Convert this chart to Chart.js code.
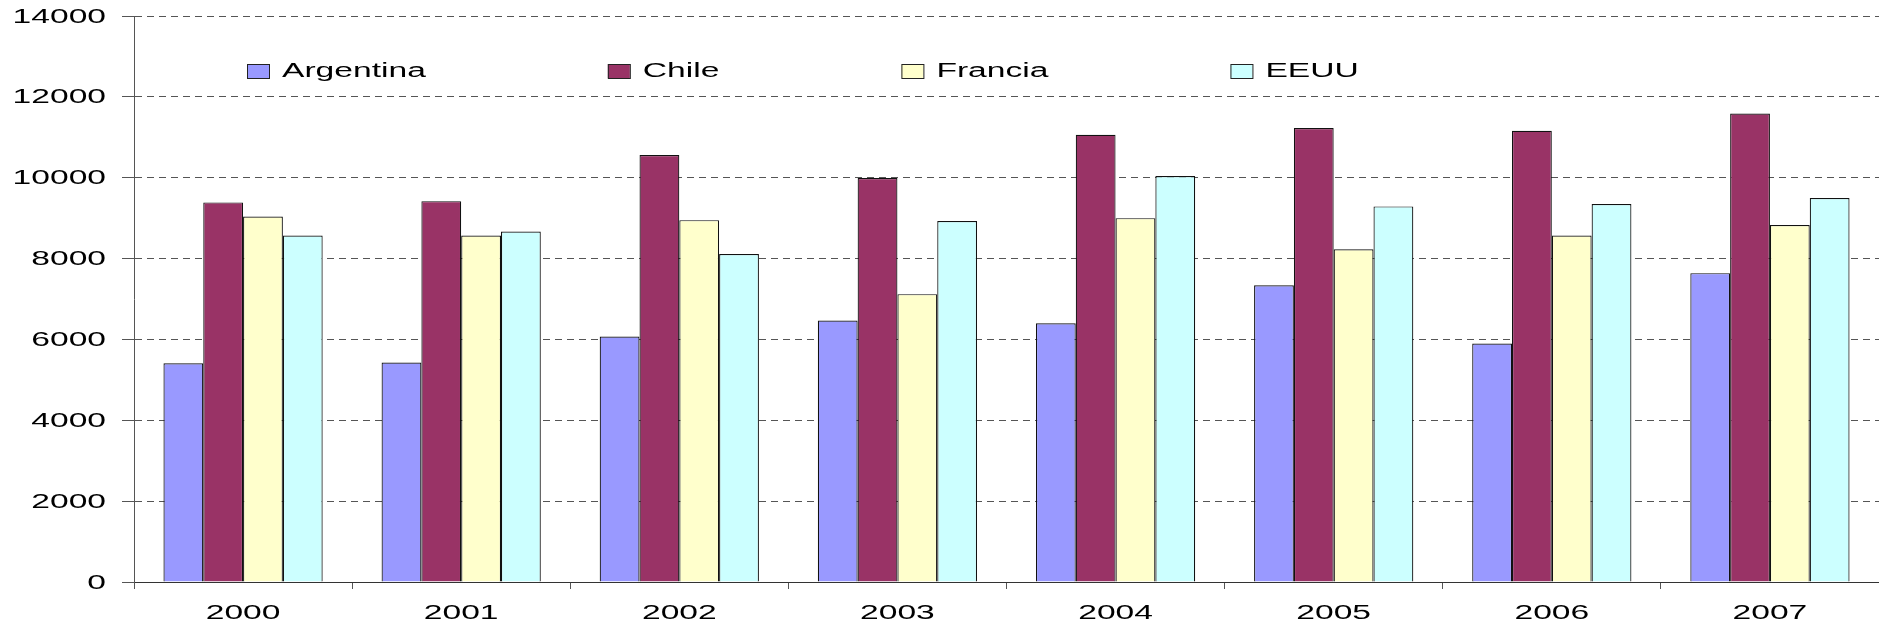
<!DOCTYPE html>
<html>
<head>
<meta charset="utf-8">
<script src="https://cdn.jsdelivr.net/npm/chart.js@4/dist/chart.umd.min.js"></script>
<style>
  html, body { margin: 0; padding: 0; background: #fff; }
  #wrap { width: 1879px; height: 627px; position: relative; }
</style>
</head>
<body>
<div id="wrap"><canvas id="paisesChart"></canvas></div>
<script>
// datos
const years = ['2000', '2001', '2002', '2003', '2004', '2005', '2006', '2007'];
const argentina = [5410, 5430, 6070, 6470, 6400, 7340, 5900, 7640];
const chile = [9390, 9420, 10560, 9990, 11060, 11230, 11160, 11590];
const francia = [9040, 8570, 8950, 7120, 9000, 8230, 8570, 8830];
const eeuu = [8570, 8670, 8110, 8930, 10040, 9290, 9350, 9500];
const yTicks = [0, 2000, 4000, 6000, 8000, 10000, 12000, 14000];

const FONT = '20px "Liberation Sans", Arial, sans-serif';
const STRETCH = 1.68; // el texto del original esta ensanchado

// texto ensanchado en horizontal
function wideText(ctx, text, x, y, align) {
    ctx.save();
    ctx.translate(x, y);
    ctx.scale(STRETCH, 1);
    ctx.font = FONT;
    ctx.fillStyle = '#000';
    ctx.textAlign = align;
    ctx.textBaseline = 'middle';
    ctx.fillText(text, 0, 0);
    ctx.restore();
}

const textPlugin = {
    id: 'textPlugin',
    afterDraw(chart) {
        const ctx = chart.ctx;
        const xs = chart.scales.x;
        const ys = chart.scales.y;

        yTicks.forEach((v) => {
            wideText(ctx, String(v), ys.right - 28, ys.getPixelForValue(v) + 1, 'right');
        });
        years.forEach((label, i) => {
            wideText(ctx, label, xs.getPixelForTick(i), xs.top + 31, 'center');
        });

        // leyenda dentro del area del grafico
        let x = chart.chartArea.left + 113;
        const y = 71;
        chart.data.datasets.forEach((ds) => {
            ctx.save();
            ctx.fillStyle = ds.backgroundColor;
            ctx.strokeStyle = '#222';
            ctx.lineWidth = 1;
            ctx.fillRect(x, y - 7, 22, 14);
            ctx.strokeRect(x + 0.5, y - 6.5, 22, 14);
            ctx.font = FONT;
            const w = ctx.measureText(ds.label).width * STRETCH;
            ctx.restore();
            wideText(ctx, ds.label, x + 35, y, 'left');
            x += 35 + w + 182;
        });
    }
};

const hiddenTicks = { color: 'rgba(0,0,0,0)', font: { family: '"Liberation Sans"', size: 19 } };

new Chart(document.getElementById('paisesChart'), {
    type: 'bar',
    data: {
        labels: years,
        datasets: [
            { label: 'Argentina', data: argentina, backgroundColor: '#9999FF' },
            { label: 'Chile', data: chile, backgroundColor: '#993366' },
            { label: 'Francia', data: francia, backgroundColor: '#FFFFCC' },
            { label: 'EEUU', data: eeuu, backgroundColor: '#CCFFFF' }
        ]
    },
    options: {
        responsive: true,
        maintainAspectRatio: false,
        animation: false,
        layout: { padding: { top: 16, left: 0, right: 0, bottom: 0 } },
        datasets: {
            bar: {
                borderColor: '#111',
                borderWidth: 1.2,
                categoryPercentage: 0.73,
                barPercentage: 1.0
            }
        },
        plugins: {
            legend: { display: false },
            tooltip: { enabled: false }
        },
        scales: {
            x: {
                grid: { drawOnChartArea: false, tickLength: 7, tickColor: '#555', offset: true },
                border: { color: '#333', width: 1 },
                ticks: hiddenTicks,
                afterFit: (s) => { s.height = 45; }
            },
            y: {
                min: 0,
                max: 14000,
                afterBuildTicks: (s) => { s.ticks = yTicks.map((v) => ({ value: v })); },
                grid: { color: '#555', tickLength: 12, tickColor: '#555', tickBorderDash: [] },
                border: { color: '#555', width: 1, dash: [7, 5] },
                ticks: Object.assign({ callback: (v) => String(v) }, hiddenTicks),
                afterFit: (s) => { s.width = 134; }
            }
        }
    },
    plugins: [textPlugin]
});
</script>
</body>
</html>
